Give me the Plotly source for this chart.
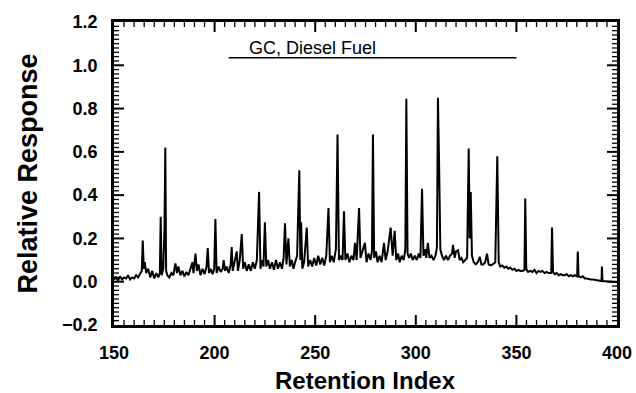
import numpy as np
import plotly.graph_objects as go

# Chromatogram trace (retention index, relative response)
retention_index = [
    150, 151, 152, 153, 154, 155, 156, 157, 158, 159, 160, 161, 162, 163,
    163.8, 164.3, 164.8, 165.3, 166, 167, 168, 169, 170, 171, 172, 172.8, 173.2, 173.7,
    174.5, 175.1, 175.5, 175.9, 176.5, 177.5, 178.5, 179.5, 180.5, 181.3, 182, 183, 184,
    185, 186, 187, 188, 189, 189.5, 190.5, 191.2, 192, 193, 194, 195, 196, 196.6, 197.2,
    198, 199, 199.8, 200.4, 201, 202, 203, 204, 204.5, 205.2, 206, 207, 208, 208.5, 209,
    210, 211, 211.6, 212.5, 213.5, 214.2, 215, 216, 217, 218, 219, 220, 221, 222.1, 222.8,
    223.5, 224.3, 225, 225.7, 226.5, 227.5, 228.5, 229.5, 230.5, 231.5, 232.5, 233.5,
    234.3, 235, 235.7, 236.7, 237.4, 238.3, 239.2, 240, 241, 242.1, 242.6, 243, 243.6,
    244.5, 245.8, 246.5, 247.5, 248.5, 249.5, 250.5, 251.5, 252.5, 253.5, 254.5, 255.5,
    256.6, 257.3, 258.2, 259.2, 260.3, 261.1, 261.8, 262.7, 263.6, 264.3, 265, 266, 267,
    268, 269, 269.8, 270.6, 271.8, 272.5, 273.5, 274.7, 275.5, 276.5, 277.5, 278.2, 278.7,
    279.3, 280.2, 281, 282, 283, 284.2, 285, 286, 287.5, 288.5, 289.5, 290.3, 291.2, 292,
    293, 294, 294.8, 295.3, 295.9, 296.7, 297.5, 298.5, 299.5, 300.5, 301.5, 302.3, 303.1,
    303.8, 304.5, 305.2, 306, 306.8, 307.8, 308.8, 309.8, 310.5, 311, 311.5, 312.2, 313,
    314, 315, 316, 317, 318, 318.5, 319.3, 320, 321, 321.8, 322.7, 323.6, 324.5, 325.5,
    326.3, 326.8, 327.3, 327.9, 328.8, 329.8, 330.8, 331.8, 332.6, 333.5, 334.5, 335.4,
    336.2, 337.2, 338.2, 339.5, 340.5, 341.2, 342, 343, 344, 345, 346, 347, 348, 349, 350,
    351, 352, 353, 354, 354.4, 354.9, 355.8, 357, 358, 359, 360, 361, 362, 363, 364, 365,
    366, 367.3, 367.7, 368.2, 369, 370, 371, 372, 373, 374, 375, 376, 377, 378, 379, 380.2,
    380.5, 380.9, 382, 383, 384, 385, 386, 387, 388, 389, 390, 391, 392.3, 392.5, 392.8,
    394, 395, 396, 397, 398, 399, 400,
]
response = [
    0.010, 0.020, 0.005, 0.025, 0.010, 0.020, 0.015, 0.030, 0.010, 0.020, 0.015, 0.030, 0.020, 0.040,
    0.050, 0.190, 0.060, 0.090, 0.040, 0.060, 0.020, 0.050, 0.015, 0.040, 0.020, 0.040, 0.300, 0.030,
    0.060, 0.250, 0.620, 0.050, 0.030, 0.020, 0.040, 0.030, 0.085, 0.040, 0.070, 0.030, 0.050,
    0.025, 0.045, 0.030, 0.060, 0.090, 0.040, 0.130, 0.050, 0.080, 0.030, 0.060, 0.035, 0.070, 0.155, 0.040,
    0.060, 0.035, 0.060, 0.290, 0.040, 0.070, 0.045, 0.060, 0.100, 0.050, 0.070, 0.040, 0.080, 0.160, 0.050,
    0.090, 0.140, 0.050, 0.100, 0.220, 0.060, 0.090, 0.050, 0.080, 0.050, 0.090, 0.060, 0.100, 0.415, 0.060,
    0.100, 0.070, 0.275, 0.070, 0.100, 0.060, 0.090, 0.055, 0.100, 0.060, 0.090, 0.060,
    0.110, 0.270, 0.080, 0.200, 0.070, 0.100, 0.060, 0.090, 0.120, 0.515, 0.100, 0.275, 0.060,
    0.090, 0.250, 0.070, 0.100, 0.070, 0.110, 0.075, 0.120, 0.080, 0.110, 0.075, 0.120,
    0.340, 0.090, 0.120, 0.090, 0.150, 0.680, 0.100, 0.120, 0.100, 0.325, 0.100, 0.130, 0.090,
    0.120, 0.100, 0.180, 0.100, 0.340, 0.110, 0.140, 0.180, 0.090, 0.130, 0.100, 0.140, 0.680,
    0.110, 0.140, 0.090, 0.120, 0.090, 0.180, 0.100, 0.140, 0.250, 0.120, 0.235, 0.100, 0.130, 0.090,
    0.120, 0.100, 0.150, 0.845, 0.130, 0.110, 0.130, 0.100, 0.120, 0.100, 0.130, 0.110, 0.430,
    0.120, 0.150, 0.110, 0.180, 0.110, 0.120, 0.100, 0.120, 0.160, 0.850, 0.590, 0.150, 0.120,
    0.100, 0.120, 0.100, 0.120, 0.130, 0.170, 0.110, 0.140, 0.145, 0.100, 0.110, 0.090, 0.100, 0.110,
    0.615, 0.200, 0.415, 0.120, 0.090, 0.080, 0.090, 0.115, 0.080, 0.080, 0.090, 0.130,
    0.080, 0.075, 0.080, 0.090, 0.580, 0.090, 0.070, 0.075, 0.065, 0.070, 0.060, 0.065, 0.055, 0.060, 0.050,
    0.055, 0.050, 0.050, 0.055, 0.385, 0.060, 0.045, 0.050, 0.045, 0.055, 0.040, 0.050, 0.045, 0.050, 0.040, 0.045,
    0.040, 0.040, 0.250, 0.045, 0.035, 0.040, 0.030, 0.035, 0.030, 0.030, 0.035, 0.025, 0.030, 0.025, 0.030, 0.025,
    0.140, 0.025, 0.020, 0.025, 0.015, 0.015, 0.012, 0.010, 0.010, 0.008, 0.005, 0.005, 0.003, 0.070, 0.003,
    0.002, 0.002, 0.001, 0.000, 0.000, -0.001, -0.002,
]

# Legend-style label line above the trace
legend_label = "GC, Diesel Fuel"
legend_line_x = [207, 350]
legend_line_y = [1.035, 1.035]
legend_text_x = 216.0

x_range = [150, 400]
y_range = [-0.2, 1.2]
x_major_step, x_minor_step = 50, 5
y_major_step, y_minor_step = 0.2, 0.02

fig = go.Figure()
fig.add_trace(go.Scatter(
    x=retention_index, y=response, mode="lines",
    line=dict(color="black", width=2), showlegend=False,
))
fig.add_trace(go.Scatter(
    x=legend_line_x, y=legend_line_y, mode="lines",
    line=dict(color="black", width=1.6), showlegend=False,
))
fig.add_annotation(
    x=legend_text_x, y=legend_line_y[0], xref="x", yref="y",
    text=legend_label, showarrow=False, xanchor="left", yanchor="bottom",
    yshift=-2, font=dict(family="Liberation Sans, Arial", size=18, color="black"),
)

fig.add_annotation(
    x=0.5, y=0, xref="paper", yref="paper", yshift=-40, xanchor="center", yanchor="top",
    text="<b>Retention Index</b>", showarrow=False,
    font=dict(family="Liberation Sans, Arial", size=24, color="black"),
)
fig.add_annotation(
    x=0, y=0.5, xref="paper", yref="paper", xshift=-70, xanchor="right", yanchor="middle",
    text="<b>Relative Response</b>", showarrow=False, textangle=-90,
    font=dict(family="Liberation Sans, Arial", size=27, color="black"),
)

# Inward tick marks on all four sides, placed from the axis ranges and steps (pixel lengths)
x_minor_vals = np.round(np.arange(x_range[0], x_range[1] + 1e-9, x_minor_step), 6)
y_minor_vals = np.round(np.arange(y_range[0], y_range[1] + 1e-9, y_minor_step), 6)
shapes = []
for xv in x_minor_vals[1:-1]:
    is_major = abs((xv - x_range[0]) / x_major_step - round((xv - x_range[0]) / x_major_step)) < 1e-6
    ln = 10 if is_major else 5
    w = 2 if is_major else 1.3
    for anchor, sign in ((y_range[0], 1), (y_range[1], -1)):
        shapes.append(dict(type="line", xref="x", yref="y", x0=xv, x1=xv,
                           ysizemode="pixel", yanchor=anchor, y0=0, y1=sign * ln,
                           line=dict(color="black", width=w), layer="above"))
for yv in y_minor_vals[1:-1]:
    is_major = abs((yv - y_range[0]) / y_major_step - round((yv - y_range[0]) / y_major_step)) < 1e-6
    ln = 10 if is_major else 5
    w = 2 if is_major else 1.3
    for anchor, sign in ((x_range[0], 1), (x_range[1], -1)):
        shapes.append(dict(type="line", xref="x", yref="y", y0=yv, y1=yv,
                           xsizemode="pixel", xanchor=anchor, x0=0, x1=sign * ln,
                           line=dict(color="black", width=w), layer="above"))

tick_font = dict(family="Liberation Sans, Arial", size=18, color="black")

fig.update_layout(
    width=636, height=393,
    margin=dict(l=114, r=19, t=22, b=68, autoexpand=False),
    plot_bgcolor="white", paper_bgcolor="white",
    shapes=shapes,
    xaxis=dict(range=x_range, dtick=x_major_step, tick0=x_range[0], showgrid=False, zeroline=False,
               showline=True, linecolor="black", linewidth=2.5, mirror=True, ticks="",
               tickfont=tick_font, tickprefix="<b>", ticksuffix="</b>", ticklabelstandoff=10),
    yaxis=dict(range=y_range, dtick=y_major_step, tick0=y_range[0], tickformat=".1f",
               showgrid=False, zeroline=False,
               showline=True, linecolor="black", linewidth=2.5, mirror=True, ticks="",
               tickfont=tick_font, tickprefix="<b>", ticksuffix="</b>", ticklabelstandoff=10),
)

fig.write_html("out.html")
